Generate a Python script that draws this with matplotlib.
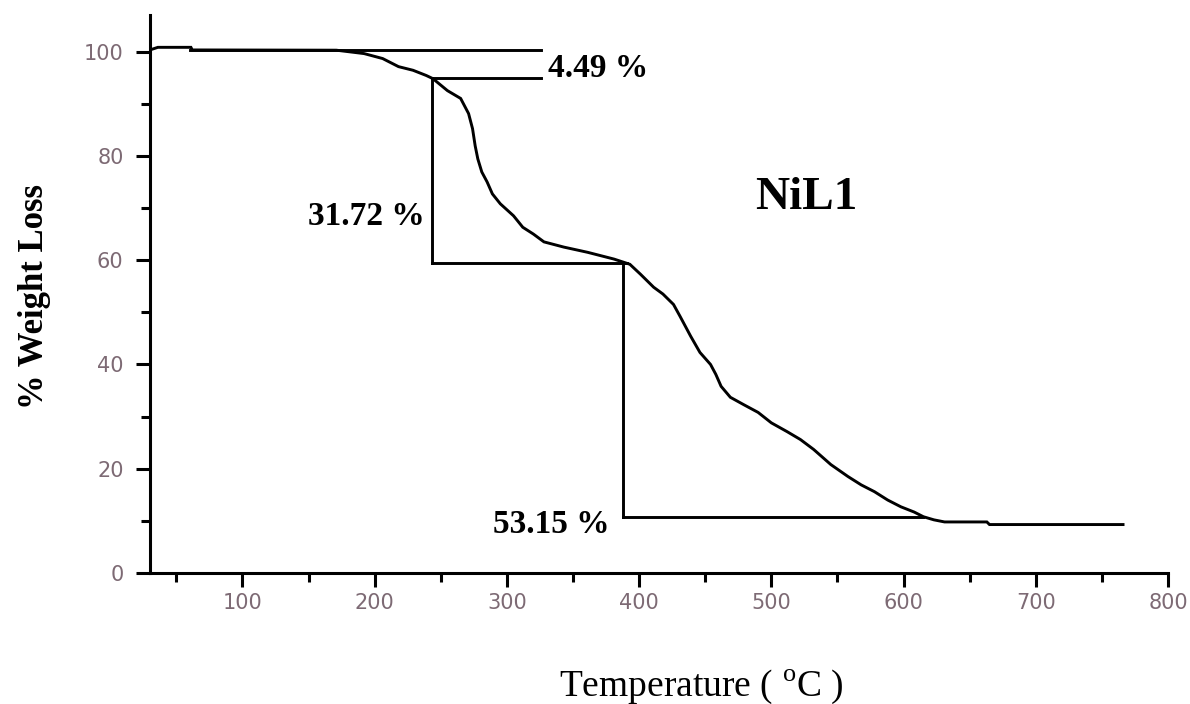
import matplotlib
matplotlib.use("Agg")
import matplotlib.pyplot as plt
from matplotlib.ticker import MultipleLocator

# TGA curve of NiL1
temp = [30, 36, 61, 62, 171, 192, 206, 218, 229, 239, 244, 255, 265, 271, 274, 276,
        278, 281, 285, 289, 295, 305, 312, 320, 328, 343, 361, 381, 393, 401, 411,
        418, 426, 431, 439, 446, 454, 458, 462, 469, 479, 490, 500, 512, 522, 532,
        545, 558, 568, 578, 588, 598, 608, 615, 623, 631, 663, 665, 766]
weight = [100.3, 100.8, 100.8, 100.3, 100.25, 99.6, 98.65, 97.1, 96.4, 95.4, 94.8,
          92.5, 91.0, 88.1, 85.2, 81.9, 79.4, 76.9, 75.0, 72.7, 70.8, 68.5, 66.3,
          65.0, 63.5, 62.5, 61.5, 60.2, 59.2, 57.3, 54.8, 53.5, 51.5, 49.2, 45.4,
          42.3, 40.0, 38.1, 35.8, 33.7, 32.3, 30.8, 28.8, 27.1, 25.6, 23.7, 20.8,
          18.5, 16.9, 15.6, 14.0, 12.7, 11.7, 10.8, 10.2, 9.8, 9.8, 9.3, 9.3]

# step construction lines
step_temp = [243.5, 387.5]
step_level = [100.3, 95.0, 59.4, 10.8]
step_labels = ["4.49 %", "31.72 %", "53.15 %"]
sample_name = "NiL1"

fig = plt.figure(figsize=(11.9, 7.04), dpi=100)
ax = fig.add_axes([0.126, 0.186, 0.8555, 0.7927])

ax.plot(temp, weight, color="black", lw=2.1, solid_joinstyle="miter")

lw = 2.1
ax.plot([60, 326], [step_level[0], step_level[0]], color="black", lw=lw)
ax.plot([step_temp[0], 326], [step_level[1], step_level[1]], color="black", lw=lw)
ax.plot([step_temp[0], step_temp[0]], [step_level[1], step_level[2]], color="black", lw=lw)
ax.plot([step_temp[0], 391], [step_level[2], step_level[2]], color="black", lw=lw)
ax.plot([step_temp[1], step_temp[1]], [step_level[2], step_level[3]], color="black", lw=lw)
ax.plot([step_temp[1], 615], [step_level[3], step_level[3]], color="black", lw=lw)

serif = "Liberation Serif"
ax.text(331, 96.7, step_labels[0], family=serif, fontweight="bold", fontsize=24,
        ha="left", va="center")
ax.text(238, 68.3, step_labels[1], family=serif, fontweight="bold", fontsize=24,
        ha="right", va="center")
ax.text(378, 9.4, step_labels[2], family=serif, fontweight="bold", fontsize=24,
        ha="right", va="center")
ax.text(488, 72.0, sample_name, family=serif, fontweight="bold", fontsize=34,
        ha="left", va="center")

ax.set_xlim(30, 800)
ax.set_ylim(0, 107)

for s in ["top", "right"]:
    ax.spines[s].set_visible(False)
for s in ["left", "bottom"]:
    ax.spines[s].set_linewidth(2.2)

ax.xaxis.set_major_locator(MultipleLocator(100))
ax.xaxis.set_minor_locator(MultipleLocator(50))
ax.yaxis.set_major_locator(MultipleLocator(20))
ax.yaxis.set_minor_locator(MultipleLocator(10))

ax.tick_params(axis="both", which="major", direction="out", length=10, width=2.2,
               labelsize=15, labelcolor="#7d6a74")
ax.tick_params(axis="both", which="minor", direction="out", length=6.5, width=2.2)
ax.tick_params(axis="y", which="major", pad=9)
ax.tick_params(axis="x", which="major", pad=4)
for lab in ax.get_xticklabels() + ax.get_yticklabels():
    lab.set_family("DejaVu Sans")

ax.set_ylabel("% Weight Loss", family=serif, fontweight="bold", fontsize=25,
              va="center")
ax.yaxis.set_label_coords(-0.113, 0.496)
ax.set_xlabel(r"Temperature ( $^{\mathregular{o}}$C )", family=serif, fontsize=27,
              va="center")
ax.xaxis.set_label_coords(0.542, -0.203)

fig.savefig("out.png", dpi=100)
